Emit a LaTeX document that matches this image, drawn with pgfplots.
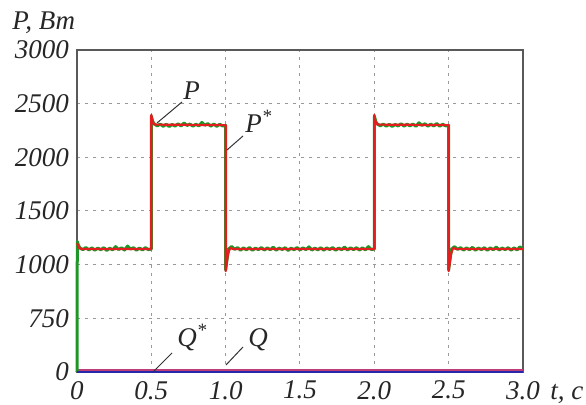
\documentclass[border=0pt]{standalone}
\usepackage{fontspec}
\setmainfont{Liberation Serif}
\usepackage{pgfplots}
\pgfplotsset{compat=1.18}
\definecolor{pred}{RGB}{228,30,30}
\definecolor{pgreen}{RGB}{30,150,40}
\definecolor{qblue}{RGB}{40,40,170}
\definecolor{qstar}{RGB}{190,60,120}
\pgfplotstableread{
t p
0 1200
0.004 1190
0.01 1160
0.03 1145
0.5 1145
0.5 2395
0.505 2345
0.52 2305
1.0 2300
1.0 940
1.005 990
1.015 1100
1.03 1155
1.05 1146
2.0 1145
2.0 2395
2.005 2345
2.02 2305
2.5 2300
2.5 940
2.505 990
2.515 1100
2.53 1155
2.55 1146
3.0 1145
}\pstar
\pgfplotstableread{
t p
0 0
0.002 1215
0.01 1180
0.02 1155
0.04 1140
0.06 1160
0.08 1137
0.10 1156
0.12 1135
0.14 1154
0.16 1139
0.18 1158
0.20 1133
0.22 1153
0.24 1138
0.26 1168
0.28 1141
0.30 1157
0.32 1136
0.34 1173
0.36 1145
0.38 1158
0.40 1135
0.42 1155
0.44 1137
0.46 1158
0.48 1140
0.50 1145
0.50 2385
0.51 2330
0.52 2312
0.54 2292
0.56 2310
0.58 2289
0.60 2308
0.62 2287
0.64 2306
0.66 2291
0.68 2312
0.70 2292
0.72 2320
0.74 2297
0.76 2310
0.78 2290
0.80 2308
0.82 2293
0.84 2325
0.86 2299
0.88 2314
0.90 2291
0.92 2310
0.94 2289
0.96 2308
0.98 2292
1.00 2297
1.00 950
1.005 1010
1.02 1145
1.04 1170
1.06 1143
1.08 1158
1.10 1135
1.12 1156
1.14 1138
1.16 1160
1.18 1134
1.20 1154
1.22 1140
1.24 1159
1.26 1136
1.28 1156
1.30 1139
1.32 1163
1.34 1135
1.36 1155
1.38 1141
1.40 1158
1.42 1133
1.44 1154
1.46 1139
1.48 1160
1.50 1137
1.52 1157
1.54 1140
1.56 1166
1.58 1136
1.60 1154
1.62 1138
1.64 1158
1.66 1135
1.68 1156
1.70 1141
1.72 1159
1.74 1134
1.76 1155
1.78 1139
1.80 1164
1.82 1137
1.84 1157
1.86 1140
1.88 1158
1.90 1136
1.92 1156
1.94 1138
1.96 1168
1.98 1141
2.00 1145
2.00 2385
2.01 2330
2.02 2312
2.04 2293
2.06 2310
2.08 2290
2.10 2307
2.12 2288
2.14 2306
2.16 2292
2.18 2313
2.20 2291
2.22 2308
2.24 2293
2.26 2310
2.28 2289
2.30 2322
2.32 2297
2.34 2313
2.36 2291
2.38 2309
2.40 2292
2.42 2315
2.44 2290
2.46 2308
2.48 2293
2.50 2297
2.50 950
2.505 1010
2.52 1145
2.54 1168
2.56 1142
2.58 1158
2.60 1136
2.62 1156
2.64 1139
2.66 1161
2.68 1135
2.70 1155
2.72 1140
2.74 1158
2.76 1134
2.78 1156
2.80 1139
2.82 1164
2.84 1136
2.86 1155
2.88 1140
2.90 1158
2.92 1135
2.94 1156
2.96 1138
2.98 1166
3.00 1145
}\pmeas
\begin{document}
\begin{tikzpicture}[x=1pt,y=1pt]
\useasboundingbox (-38.5,-16.5) rectangle (254.5,186);
\begin{axis}[
  at={(0,0)}, anchor=south west,
  scale only axis, width=223pt, height=161pt,
  xmin=0, xmax=3, ymin=0, ymax=3000,
  clip=false,
  xtick={0,0.5,1,1.5,2,2.5,3},
  xticklabels={0,0.5,1.0,1.5,2.0,2.5,3.0},
  ytick={0,500,1000,1500,2000,2500,3000},
  yticklabels={0,750,1000,1500,2000,2500,3000},
  grid=major,
  major grid style={gray!80, line width=0.5pt, dash pattern=on 1.5pt off 2.5pt},
  major tick length=0pt,
  axis line style={gray!70!black, line width=0.7pt},
  tick label style={font=\fontsize{13.5}{16}\selectfont\itshape, text=black!85},
  xticklabel style={yshift=-1pt},
  yticklabel style={xshift=-0.5pt},
]
\addplot[qstar, line width=0.8pt] coordinates {(0,18) (3,18)};
\addplot[pgreen, line width=1.5pt, line join=round] table[x=t,y=p] {\pmeas};
\addplot[pred, line width=1.1pt, line join=round] table[x=t,y=p] {\pstar};
\addplot[qblue, line width=1.2pt] coordinates {(0,0) (3,0)};
\end{axis}
\begin{scope}[font=\fontsize{13.5}{16}\selectfont\itshape, text=black!85]
\node[anchor=base west, inner sep=0] at (-32.5,171) {P, Вт};
\node[anchor=base west, inner sep=0] at (236.5,-14) {t, с};
\draw[black!80, line width=0.5pt] (40,124.5) -- (52.5,135);
\node[anchor=base west, inner sep=0] at (53,136) {P};
\draw[black!80, line width=0.5pt] (75,111) -- (83,118);
\node[anchor=base west, inner sep=0] at (84,119.5) {P\textsuperscript{*}};
\draw[black!80, line width=0.5pt] (38,0) -- (47.5,9.5);
\node[anchor=base west, inner sep=0] at (50,12.5) {Q\textsuperscript{*}};
\draw[black!80, line width=0.5pt] (74.5,3.5) -- (83,12.5);
\node[anchor=base west, inner sep=0] at (85.5,12.5) {Q};
\end{scope}
\end{tikzpicture}
\end{document}
